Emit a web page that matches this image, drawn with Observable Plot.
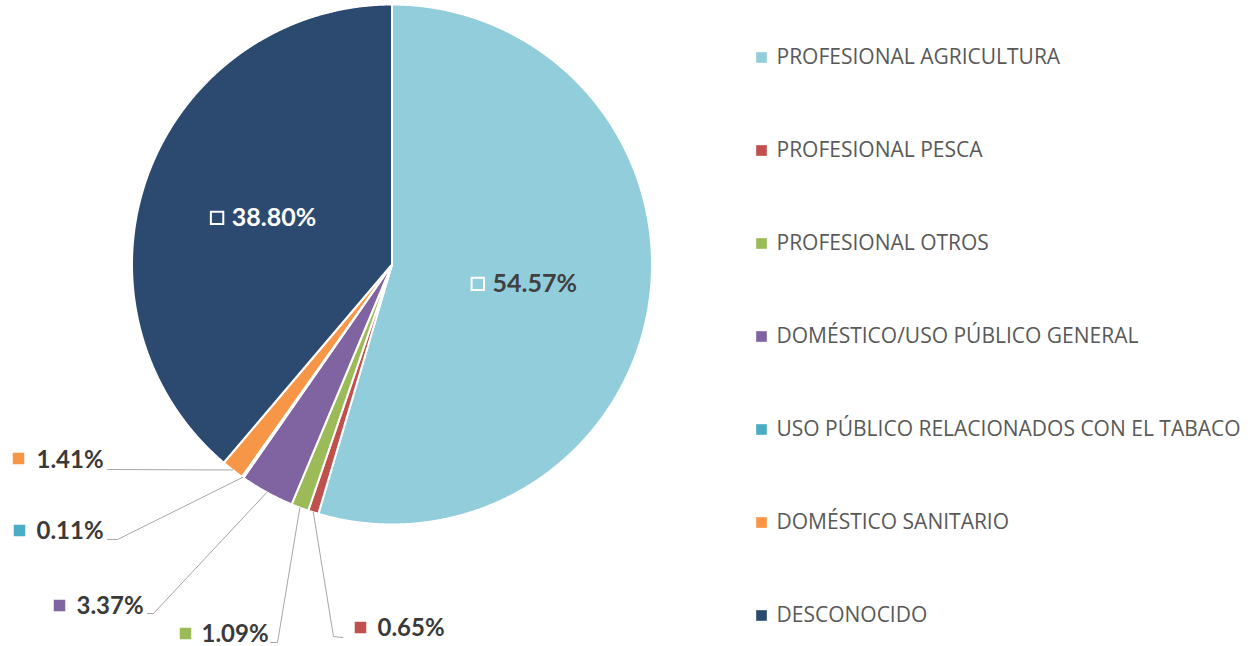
<!DOCTYPE html>
<html><head><meta charset="utf-8">
<script src="https://cdn.jsdelivr.net/npm/d3@7"></script>
<script src="https://cdn.jsdelivr.net/npm/@observablehq/plot@0.6"></script>
<style>body{margin:0;background:#fff;}</style>
</head><body><div id="chart"></div>
<script>
// ---- data ----
const categories = ["PROFESIONAL AGRICULTURA","PROFESIONAL PESCA","PROFESIONAL OTROS","DOMÉSTICO/USO PÚBLICO GENERAL","USO PÚBLICO RELACIONADOS CON EL TABACO","DOMÉSTICO SANITARIO","DESCONOCIDO"];
const values = [54.57, 0.65, 1.09, 3.37, 0.11, 1.41, 38.80];
const colors = ["#92CDDC","#C0504D","#9BBB59","#8064A2","#4BACC6","#F79646","#2C4A70"];
const valueLabels = values.map(v => v.toFixed(2) + "%");

// ---- layout ----
const W = 1258, H = 646;
const CX = 391.5, CY = 264, R = 260;
// inside labels (index -> text colour)
const insideLabels = {0: "#404040", 6: "#ffffff"};
// outside labels: square position, text start, leader end + elbow
const outsideLayout = {
  1: {sx: 360, sy: 627, tx: 377, ty: 628, end: [342, 637], elbow: [333, 636]},
  2: {sx: 185, sy: 633, tx: 201, ty: 634, end: [270, 642], elbow: [277, 642]},
  3: {sx: 59,  sy: 605, tx: 76,  ty: 606, end: [147, 613], elbow: [153, 613]},
  4: {sx: 19,  sy: 530, tx: 36,  ty: 531, end: [107, 539], elbow: [117, 539]},
  5: {sx: 18,  sy: 458, tx: 36,  ty: 460, end: [107, 469], elbow: [108, 469]}
};
const legendX = 761, legendTextX = 776, legendY0 = 57, legendStep = 93;

// ---- geometry from data ----
const arcs = d3.pie().sort(null).value(d => d)(values);
const pt = (a, r) => ({x: CX + r * Math.sin(a), y: CY - r * Math.cos(a)});
const slicePts = [];
arcs.forEach((a, i) => {
  const cat = categories[i];
  slicePts.push({cat, x: CX, y: CY});
  const n = Math.max(2, Math.ceil((a.endAngle - a.startAngle) / 0.004));
  for (let k = 0; k <= n; k++) {
    const t = a.startAngle + (a.endAngle - a.startAngle) * k / n;
    slicePts.push({cat, ...pt(t, R)});
  }
  slicePts.push({cat, x: CX, y: CY});
});
const mid = a => (a.startAngle + a.endAngle) / 2;

const inside = Object.keys(insideLabels).map(Number).map(i => {
  const p = pt(mid(arcs[i]), R * 0.52);
  return {cat: categories[i], label: valueLabels[i], x: p.x, y: p.y, color: insideLabels[i]};
});

const outside = Object.keys(outsideLayout).map(Number).map(i => ({i, cat: categories[i], label: valueLabels[i], ...outsideLayout[i]}));
const leaders = [];
outside.forEach(o => {
  const anchor = pt(mid(arcs[o.i]), R);
  leaders.push({cat: o.cat, x: o.end[0], y: o.end[1]});
  leaders.push({cat: o.cat, x: o.elbow[0], y: o.elbow[1]});
  leaders.push({cat: o.cat, x: anchor.x, y: anchor.y});
});

const chart = Plot.plot({
  width: W, height: H, margin: 0,
  x: {domain: [0, W], range: [0, W], axis: null},
  y: {domain: [0, H], range: [0, H], axis: null},
  color: {domain: categories, range: colors},
  style: {fontFamily: "Lato", background: "#fff"},
  marks: [
    Plot.line(slicePts, {x: "x", y: "y", z: "cat", fill: "cat", stroke: "white", strokeWidth: 2, strokeLinejoin: "round"}),
    Plot.line(leaders, {x: "x", y: "y", z: "cat", stroke: "#A6A6A6", strokeWidth: 1}),
    // inside labels
    Plot.dot(inside, {x: d => d.x - 48, y: "y", symbol: "square", r: 7, fill: "none", stroke: "white", strokeWidth: 2}),
    Plot.text(inside, {x: d => d.x + 9, y: "y", text: "label", fill: d => d.color, fontSize: 25, fontWeight: "bold", fontFamily: "Lato"}),
    // outside labels
    Plot.dot(outside, {x: "sx", y: "sy", symbol: "square", r: 6.5, fill: "cat"}),
    Plot.text(outside, {x: "tx", y: "ty", text: "label", textAnchor: "start", fill: "#3A3A3A", fontSize: 24, fontWeight: "bold", fontFamily: "Lato"}),
    // legend
    Plot.dot(categories, {x: () => legendX, y: (d, i) => legendY0 + legendStep * i, symbol: "square", r: 6, fill: d => d}),
    Plot.text(categories, {x: () => legendTextX, y: (d, i) => legendY0 + legendStep * i, text: d => d, textAnchor: "start", fill: "#595959", fontSize: 21, fontFamily: "Open Sans"})
  ]
});
document.getElementById("chart").appendChild(chart);
</script>
</body></html>
